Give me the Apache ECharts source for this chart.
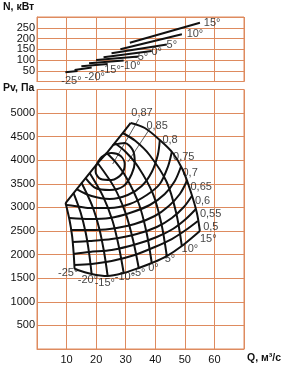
<!DOCTYPE html>
<html>
<head>
<meta charset="utf-8">
<script src="https://cdn.jsdelivr.net/npm/echarts@6/dist/echarts.min.js"></script>
<style>
  html, body { margin: 0; padding: 0; background: #fff; }
  #chart { width: 291px; height: 369px; }
</style>
</head>
<body>
<div id="chart"></div>
<script>
// углы установки лопаток
const angleNames = ['-25°', '-20°', '-15°', '-10°', '-5°', '0°', '5°', '10°', '15°'];

// мощность N(Q), кВт
const powerM25 = [[9.6, 43], [13.7, 49]];
const powerM20 = [[12.7, 54], [18.5, 65]];
const powerM15 = [[15.0, 71], [23.9, 81]];
const powerM10 = [[17.6, 85], [29.3, 98]];
const powerM5 = [[20.0, 100], [34.4, 116]];
const power0 = [[22.5, 113], [38.8, 142]];
const power5 = [[25.2, 131], [43.9, 172]];
const power10 = [[28.2, 150], [49.0, 220]];
const power15 = [[31.4, 180], [55.1, 273]];

// полное давление Pv(Q), Па
const pvM25 = [[9.66, 3094], [10.95, 2749], [11.86, 2401], [12.37, 2050], [12.71, 1696]];
const pvM20 = [[12.37, 3306], [14.78, 2889], [16.47, 2463], [17.63, 2028], [18.47, 1590]];
const pvM15 = [[15.08, 3518], [18.58, 3048], [21.02, 2560], [22.68, 2056], [23.90, 1547]];
const pvM10 = [[17.80, 3730], [22.34, 3236], [25.56, 2713], [27.69, 2168], [29.32, 1611]];
const pvM5 = [[20.51, 3942], [26.03, 3436], [29.90, 2889], [32.47, 2310], [34.41, 1717]];
const pv0 = [[23.56, 4154], [26.58, 3959], [30.14, 3641], [34.47, 3073], [37.08, 2459], [38.81, 1823]];
const pv5 = [[26.27, 4366], [29.93, 4182], [34.14, 3868], [39.22, 3287], [42.10, 2645], [43.90, 1971]];
const pv10 = [[28.98, 4578], [33.22, 4413], [38.07, 4112], [43.86, 3540], [47.08, 2883], [48.98, 2183]];
const pv15 = [[31.69, 4790], [36.44, 4684], [41.53, 4430], [45.93, 4154], [49.32, 3794], [52.03, 3328], [54.07, 2883], [55.08, 2501]];

// граница помпажа и нижняя граница
const stallLine = [[9.66, 3094], [12.37, 3306], [15.08, 3518], [17.80, 3730], [20.51, 3942], [23.56, 4154], [26.27, 4366], [28.98, 4578], [31.69, 4790]];
const lowerLine = [[12.71, 1696], [18.47, 1590], [23.90, 1547], [29.32, 1611], [34.41, 1717], [38.81, 1823], [43.90, 1971], [48.98, 2183], [55.08, 2501]];

// линии КПД
const eff087 = [[19.83, 3857], [21.86, 4069], [25.25, 4154], [28.31, 4090], [29.66, 3921], [28.64, 3709], [25.25, 3582], [21.53, 3603], [19.83, 3752], [19.83, 3857]];
const eff085 = [[25.59, 4324], [29.66, 4366], [32.37, 4218], [33.05, 3963], [32.03, 3709], [29.32, 3455], [24.58, 3370], [19.83, 3412], [16.44, 3624]];
const eff080 = [[41.53, 4430], [40.85, 4112], [38.81, 3752], [35.42, 3455], [30.68, 3264], [24.58, 3179], [18.47, 3243], [13.39, 3391]];
const eff075 = [[45.59, 4175], [44.24, 3857], [41.53, 3497], [37.12, 3264], [31.36, 3073], [24.58, 2988], [17.80, 2988], [12.71, 3031], [10.0, 3052]];
const eff070 = [[48.64, 3857], [46.61, 3561], [43.22, 3285], [38.14, 3052], [31.36, 2883], [24.58, 2777], [17.80, 2755], [11.02, 2777]];
const eff065 = [[50.68, 3561], [48.31, 3285], [44.58, 3031], [39.83, 2819], [33.05, 2649], [24.58, 2543], [17.80, 2522], [11.36, 2522]];
const eff060 = [[52.37, 3243], [49.66, 3010], [45.59, 2777], [40.51, 2586], [33.73, 2437], [25.25, 2331], [17.80, 2289], [11.86, 2268]];
const eff055 = [[53.73, 2967], [50.34, 2755], [45.93, 2543], [40.51, 2374], [33.73, 2225], [25.25, 2098], [17.80, 2056], [12.20, 2014]];
const eff050 = [[54.41, 2713], [50.34, 2522], [45.59, 2331], [39.83, 2162], [33.05, 1992], [25.25, 1865], [18.47, 1802], [12.54, 1780]];

// выноски к меткам 0,87 и 0,85
const leader087 = [[34.4, 4876], [25.6, 3921]];
const leader085 = [[38.1, 4664], [30.7, 3963]];

// подписи
const powerLabels = [[8.2, 4, '-25°'], [16.1, 22, '-20°'], [21.5, 53, '-15°'], [28.2, 72, '-10°'], [32.8, 113, '-5°'], [38.7, 139, '0°'], [43.8, 170, '5°'], [50.6, 220, '10°'], [56.4, 273, '15°']];
const angleLabels = [[7.1, 1605, '-25°'], [13.8, 1463, '-20°'], [19.5, 1393, '-15°'], [26.3, 1520, '-10°'], [31.9, 1605, '-5°'], [37.6, 1711, '0°'], [43.2, 1902, '5°'], [48.9, 2114, '10°'], [55.1, 2326, '15°']];
const effLabels = [[31.9, 4995, '0,87'], [37.0, 4728, '0,85'], [42.4, 4431, '0,8'], [46.0, 4077, '0,75'], [49.2, 3725, '0,7'], [51.9, 3428, '0,65'], [53.4, 3144, '0,6'], [55.1, 2862, '0,55'], [56.2, 2593, '0,5']];

const gridColor = '#de8b5f';
const font = 'Liberation Sans, Arial, sans-serif';

const chart = echarts.init(document.getElementById('chart'));

function curve(data, idx, opts) {
  return Object.assign({
    type: 'line',
    xAxisIndex: idx,
    yAxisIndex: idx,
    data: data,
    symbol: 'none',
    smooth: 0.3,
    silent: true,
    lineStyle: { color: '#111', width: 2 }
  }, opts || {});
}

function labels(list, idx) {
  return {
    type: 'scatter',
    xAxisIndex: idx,
    yAxisIndex: idx,
    symbolSize: 0,
    silent: true,
    data: list.map(function (d) { return { value: [d[0], d[1]], name: d[2] }; }),
    label: {
      show: true,
      position: 'right',
      distance: 0,
      formatter: '{b}',
      color: '#111',
      fontSize: 11,
      fontFamily: font
    }
  };
}

function xAxis(idx, showLabels) {
  return {
    type: 'value',
    gridIndex: idx,
    min: 0,
    max: 70,
    interval: 10,
    axisLine: { show: true, lineStyle: { color: gridColor } },
    axisTick: { show: false },
    splitLine: { show: true, lineStyle: { color: gridColor, width: 1 } },
    axisLabel: {
      show: showLabels,
      showMinLabel: false,
      showMaxLabel: false,
      color: '#111',
      fontSize: 11,
      fontFamily: font,
      margin: 5,
      formatter: function (v) { return String(v); }
    }
  };
}

function yAxis(idx, max, step) {
  return {
    type: 'value',
    gridIndex: idx,
    min: 0,
    max: max,
    interval: step,
    axisLine: { show: true, lineStyle: { color: gridColor } },
    axisTick: { show: false },
    splitLine: { show: true, lineStyle: { color: gridColor, width: 1 } },
    axisLabel: {
      showMinLabel: false,
      showMaxLabel: false,
      color: '#111',
      fontSize: 11,
      fontFamily: font,
      margin: 2,
      formatter: function (v) { return String(v); }
    }
  };
}

const series = [];
[powerM25, powerM20, powerM15, powerM10, powerM5, power0, power5, power10, power15].forEach(function (d) {
  series.push(curve(d, 0, { smooth: false }));
});
[pvM25, pvM20, pvM15, pvM10, pvM5, pv0, pv5, pv10, pv15].forEach(function (d) {
  series.push(curve(d, 1));
});
series.push(curve(stallLine, 1, { smooth: false }));
series.push(curve(lowerLine, 1));
[eff087, eff085, eff080, eff075, eff070, eff065, eff060, eff055, eff050].forEach(function (d) {
  series.push(curve(d, 1));
});
series.push(curve(leader087, 1, { smooth: false, lineStyle: { color: '#111', width: 0.7 } }));
series.push(curve(leader085, 1, { smooth: false, lineStyle: { color: '#111', width: 0.7 } }));
series.push(labels(powerLabels, 0));
series.push(labels(angleLabels, 1));
series.push(labels(effLabels, 1));

const titleStyle = { color: '#111', fontSize: 10.5, fontWeight: 'bold', fontFamily: font };

chart.setOption({
  animation: false,
  backgroundColor: '#fff',
  title: [
    { text: 'N, кВт', left: 3, top: 2, padding: 0, textStyle: titleStyle },
    { text: 'Pv, Па', left: 3, top: 83, padding: 0, textStyle: titleStyle },
    { text: 'Q, м³/с', left: 247, top: 353, padding: 0, textStyle: titleStyle }
  ],
  grid: [
    { left: 37, top: 17, width: 207, height: 64.5, show: true, borderColor: gridColor, borderWidth: 1 },
    { left: 37, top: 89.5, width: 207, height: 259.5, show: true, borderColor: gridColor, borderWidth: 1 }
  ],
  xAxis: [xAxis(0, false), xAxis(1, true)],
  yAxis: [yAxis(0, 300, 50), yAxis(1, 5500, 500)],
  series: series
});
</script>
</body>
</html>
